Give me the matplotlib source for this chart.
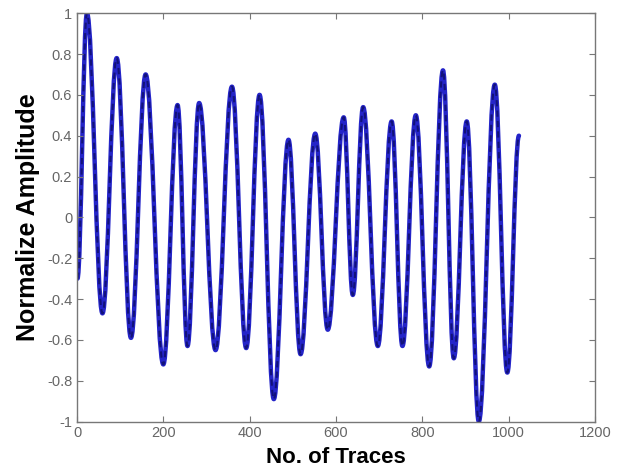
import matplotlib
matplotlib.use("Agg")
import matplotlib.pyplot as plt
from matplotlib.path import Path
from matplotlib.patches import PathPatch

plt.rcParams['font.family'] = ['Liberation Sans', 'DejaVu Sans']

# turning points of the trace (trace number, normalized amplitude)
traces = [1, 23, 59, 92, 125, 159, 200, 233, 256, 283, 321, 359, 392, 423,
          456, 490, 518, 552, 581, 618, 639, 663, 697, 729, 754, 785, 816,
          848, 873, 903, 931, 968, 997, 1024]
amps = [-0.30, 1.00, -0.47, 0.78, -0.59, 0.70, -0.72, 0.55, -0.63, 0.56,
        -0.65, 0.64, -0.64, 0.60, -0.89, 0.38, -0.67, 0.41, -0.55, 0.49,
        -0.38, 0.54, -0.63, 0.47, -0.63, 0.50, -0.73, 0.72, -0.69, 0.47,
        -1.00, 0.65, -0.76, 0.40]

xticks = [0, 200, 400, 600, 800, 1000, 1200]
yticks = [-1, -0.8, -0.6, -0.4, -0.2, 0, 0.2, 0.4, 0.6, 0.8, 1]
ylabels = ['-1', '-0.8', '-0.6', '-0.4', '-0.2', '0', '0.2', '0.4', '0.6', '0.8', '1']


def smooth_path(xs, ys, k=0.38):
    # cubic bezier between turning points, flat tangent at each one
    verts = [(xs[0], ys[0])]
    codes = [Path.MOVETO]
    for i in range(1, len(xs)):
        dx = xs[i] - xs[i - 1]
        verts += [(xs[i - 1] + k * dx, ys[i - 1]), (xs[i] - k * dx, ys[i]), (xs[i], ys[i])]
        codes += [Path.CURVE4] * 3
    return Path(verts, codes)


fig = plt.figure(figsize=(6.21, 4.70), dpi=100)
ax = fig.add_axes([0.124, 0.103, 0.834, 0.869])

p = smooth_path(traces, amps)
ax.add_patch(PathPatch(p, fill=False, edgecolor='#2424c8', lw=3.2, capstyle='round', joinstyle='round'))
ax.add_patch(PathPatch(p, fill=False, edgecolor='#12127a', lw=1.5, linestyle=(0, (3, 2))))

ax.set_xlim(0, 1200)
ax.set_ylim(-1, 1)
ax.set_xticks(xticks)
ax.set_yticks(yticks)
ax.set_xticklabels([str(t) for t in xticks])
ax.set_yticklabels(ylabels)
ax.tick_params(direction='in', top=True, right=True, length=4, width=0.8,
               colors='#777777', labelsize=10.5, labelcolor='#666666')
for s in ax.spines.values():
    s.set_color('#777777')
    s.set_linewidth(1.0)

ax.set_xlabel('No. of Traces', fontsize=16, fontweight='bold', labelpad=5)
ax.set_ylabel('Normalize Amplitude', fontsize=18, fontweight='bold', labelpad=5)

fig.savefig('out.png', dpi=100)
